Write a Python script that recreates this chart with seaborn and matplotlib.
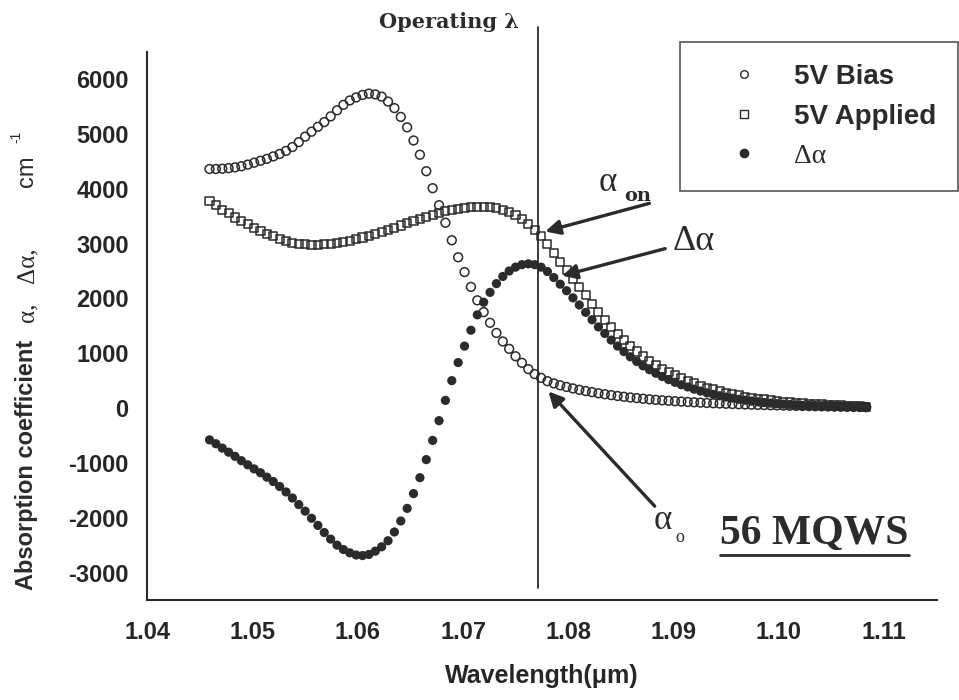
import matplotlib
matplotlib.use("Agg")
import matplotlib.pyplot as plt
from matplotlib.lines import Line2D
from matplotlib.ticker import MultipleLocator, FormatStrFormatter
import numpy as np
import seaborn as sns

# sampling grid of the measurement (um), 104 points
wavelength = np.linspace(1.0459, 1.1083, 104)

# absorption with 5V bias (open circles), cm^-1
bias_5v = [4360, 4360, 4365, 4375, 4390, 4410, 4440, 4475, 4510, 4545,
           4590, 4635, 4690, 4760, 4850, 4950, 5040, 5130, 5215, 5320,
           5430, 5530, 5610, 5665, 5710, 5735, 5720, 5680, 5590, 5470,
           5310, 5120, 4880, 4620, 4320, 4010, 3700, 3380, 3060, 2750,
           2480, 2210, 1965, 1750, 1555, 1370, 1215, 1080, 945, 825,
           710, 620, 550, 490, 450, 415, 385, 358, 333, 310,
           290, 270, 252, 236, 220, 206, 193, 181, 170, 160,
           150, 141, 133, 125, 118, 111, 105, 99, 93, 88,
           83, 78, 74, 70, 66, 62, 58, 55, 52, 49,
           46, 43, 40, 38, 36, 34, 32, 30, 28, 26,
           24, 22, 20, 18]

# absorption with 5V applied (open squares), cm^-1
applied_5v = [3776, 3705, 3620, 3550, 3475, 3410, 3350, 3290, 3235, 3180,
              3130, 3085, 3045, 3015, 2995, 2985, 2980, 2980, 2985, 2995,
              3010, 3030, 3055, 3080, 3110, 3140, 3175, 3210, 3250, 3290,
              3330, 3370, 3410, 3450, 3490, 3525, 3560, 3590, 3615, 3635,
              3650, 3660, 3665, 3665, 3660, 3645, 3620, 3580, 3520, 3440,
              3350, 3250, 3130, 2990, 2830, 2670, 2510, 2350, 2200, 2055,
              1900, 1750, 1612, 1476, 1350, 1236, 1128, 1031, 940, 860,
              785, 716, 653, 595, 543, 496, 450, 409, 371, 338,
              307, 278, 254, 230, 209, 190, 172, 156, 142, 129,
              117, 106, 96, 87, 79, 72, 65, 58, 52, 46,
              41, 36, 31, 26]

# change of absorption (filled circles), cm^-1
delta_alpha = [-580, -650, -730, -805, -880, -960, -1035, -1110, -1180, -1260,
               -1340, -1430, -1530, -1640, -1760, -1880, -2010, -2140, -2270, -2390,
               -2500, -2580, -2640, -2680, -2690, -2670, -2610, -2530, -2420, -2260,
               -2060, -1830, -1560, -1270, -940, -590, -230, 140, 500, 830,
               1130, 1420, 1700, 1930, 2110, 2270, 2400, 2500, 2570, 2615,
               2630, 2615, 2570, 2490, 2380, 2260, 2140, 2010, 1880, 1745,
               1610, 1480, 1360, 1240, 1130, 1030, 935, 850, 770, 700,
               635, 575, 520, 470, 425, 385, 345, 310, 278, 250,
               224, 200, 180, 160, 143, 128, 114, 101, 90, 80,
               71, 63, 56, 49, 43, 38, 33, 28, 24, 20,
               17, 14, 11, 8]

operating_wl = 1.0771
series_labels = ["5V Bias", "5V Applied", "\u0394\u03b1"]

ink = "#2b2b2b"
sns.set_style("white")
plt.rcParams["font.family"] = ["Liberation Sans", "DejaVu Sans"]
plt.rcParams["text.color"] = ink
plt.rcParams["axes.unicode_minus"] = False

fig = plt.figure(figsize=(9.59, 7.0), dpi=100)
ax = fig.add_axes([0.1537, 0.1429, 0.8231, 0.7833])

sns.scatterplot(x=wavelength, y=bias_5v, marker="o", s=40, color=ink,
                facecolor="none", edgecolor=ink, linewidth=1.1, ax=ax)
sns.scatterplot(x=wavelength, y=applied_5v, marker="s", s=34, color=ink,
                facecolor="none", edgecolor=ink, linewidth=1.1, ax=ax)
sns.scatterplot(x=wavelength, y=delta_alpha, marker="o", s=44, color=ink,
                edgecolor="none", linewidth=0, ax=ax)

ax.set_xlim(1.04, 1.115)
ax.set_ylim(-3500, 6500)
ax.xaxis.set_major_locator(MultipleLocator(0.01))
ax.xaxis.set_minor_locator(MultipleLocator(0.005))
ax.xaxis.set_major_formatter(FormatStrFormatter("%.2f"))
ax.yaxis.set_major_locator(MultipleLocator(1000))
ax.yaxis.set_minor_locator(MultipleLocator(500))
for side in ["top", "right"]:
    ax.spines[side].set_visible(False)
for side in ["left", "bottom"]:
    ax.spines[side].set_linewidth(1.5)
    ax.spines[side].set_color(ink)
ax.tick_params(which="major", direction="out", length=7.5, width=1.4,
               color=ink, labelsize=17, pad=6)
ax.tick_params(which="minor", direction="out", length=4, width=1.2, color=ink)
ax.tick_params(axis="x", which="major", pad=8)
ax.tick_params(axis="x", which="minor", length=5)
for lab in ax.get_xticklabels() + ax.get_yticklabels():
    lab.set_fontweight("bold")

ax.set_xlabel("Wavelength(\u03bcm)", fontsize=18, fontweight="bold", labelpad=14)
ax.set_ylabel("")

# operating wavelength marker
ax.axvline(operating_wl, ymin=0.022, ymax=1.045, color=ink, lw=1.3, clip_on=False)
fig.text(0.468, 0.968, "Operating \u03bb", ha="center", va="center",
         fontsize=15, fontweight="bold", family=["DejaVu Serif"])

# y label built from pieces (mixed fonts)
ylab = [("Absorption coefficient", 590, 33, 17, "bold", ["Liberation Sans"]),
        ("\u03b1,", 322, 33, 18, "normal", ["Liberation Serif"]),
        ("\u0394\u03b1,", 283, 33, 18, "normal", ["Liberation Serif"]),
        ("cm", 187, 33, 17, "normal", ["Liberation Sans"]),
        ("-1", 143, 20, 10, "normal", ["Liberation Sans"])]
for txt, ypx, xpx, fs, fw, fam in ylab:
    fig.text(xpx / 959, 1 - ypx / 700, txt, rotation=90, rotation_mode="anchor",
             ha="left", va="baseline", fontsize=fs, fontweight=fw, family=fam)

# legend
handles = [Line2D([], [], ls="none", marker="o", ms=5.5, mfc="none", mec=ink, mew=1.0),
           Line2D([], [], ls="none", marker="s", ms=5.5, mfc="none", mec=ink, mew=1.0),
           Line2D([], [], ls="none", marker="o", ms=6, mfc=ink, mec=ink)]
leg = fig.legend(handles, series_labels, loc="upper left",
                 bbox_to_anchor=(680 / 959, 1 - 41.7 / 700),
                 bbox_transform=fig.transFigure, borderaxespad=0,
                 fontsize=20, borderpad=0.8, handlelength=3.0, handletextpad=0.3,
                 labelspacing=0.5, frameon=True, fancybox=False, numpoints=1)
leg.get_frame().set_edgecolor(ink)
leg.get_frame().set_linewidth(1.2)
for i, t in enumerate(leg.get_texts()):
    if i < 2:
        t.set_fontweight("bold")
    else:
        t.set_fontfamily(["Liberation Serif"])

# arrows and labels
arrow = dict(arrowstyle="-|>", color=ink, lw=2.4, mutation_scale=22,
             shrinkA=0, shrinkB=0)
ax.annotate("", xy=(1.0778, 3220), xytext=(1.0877, 3734), arrowprops=arrow)
ax.annotate("", xy=(1.0794, 2413), xytext=(1.0892, 2908), arrowprops=arrow)
ax.annotate("", xy=(1.0781, 303), xytext=(1.0882, -1789), arrowprops=arrow)

ax.text(1.0837, 4120, "\u03b1", fontsize=25, family=["Liberation Serif"],
        ha="center", va="center")
ax.text(1.0866, 3860, "on", fontsize=14, fontweight="bold",
        family=["DejaVu Serif"], ha="center", va="center")
ax.text(1.0919, 3040, "\u0394\u03b1", fontsize=26, family=["Liberation Serif"],
        ha="center", va="center")
ax.text(1.0890, -2046, "\u03b1", fontsize=25, family=["Liberation Serif"],
        ha="center", va="center")
ax.text(1.0906, -2360, "o", fontsize=13, family=["Liberation Serif"],
        ha="center", va="center")

mq = ax.text(1.1034, -2303, "56 MQWS", fontsize=30, fontweight="bold",
             family=["Liberation Serif"], ha="center", va="center")
fig.canvas.draw()
bb = mq.get_window_extent().transformed(fig.transFigure.inverted())
fig.add_artist(Line2D([bb.x0, bb.x1], [bb.y0 - 0.003, bb.y0 - 0.003],
                      transform=fig.transFigure, color=ink, lw=2))

fig.savefig("out.png", dpi=100, facecolor="white")
